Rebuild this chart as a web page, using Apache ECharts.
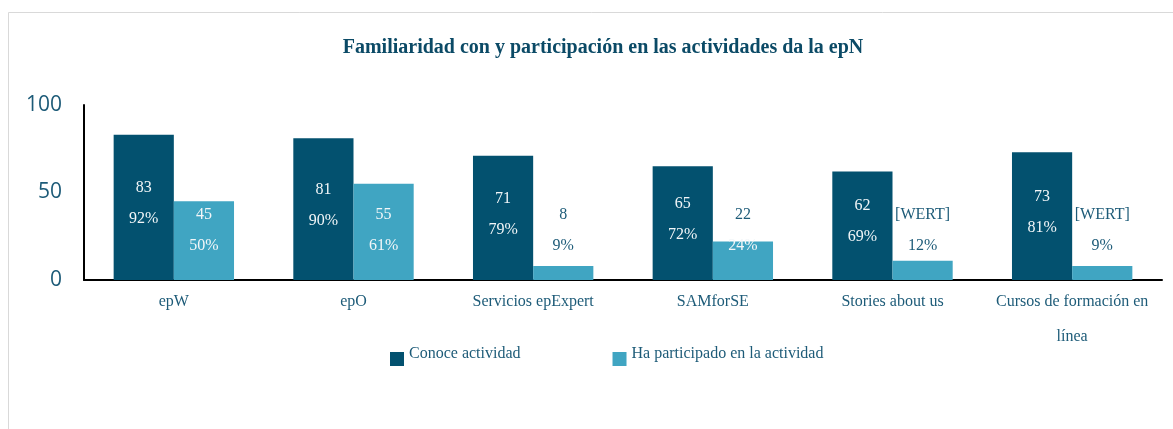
<!DOCTYPE html>
<html>
<head>
<meta charset="utf-8">
<script src="https://cdn.jsdelivr.net/npm/echarts@6/dist/echarts.min.js"></script>
<style>
html,body{margin:0;padding:0;background:#fff;}
#chart{width:1173px;height:429px;}
</style>
</head>
<body>
<div id="chart"></div>
<script>
const categories = ['epW', 'epO', 'Servicios epExpert', 'SAMforSE', 'Stories about us', 'Cursos de formación en\nlínea'];
const conoce = [83, 81, 71, 65, 62, 73];
const conocePct = ['92%', '90%', '79%', '72%', '69%', '81%'];
const participado = [45, 55, 8, 22, 11, 8];
const participadoLabels = ['45', '55', '8', '22', '[WERT]', '[WERT]'];
const participadoPct = ['50%', '61%', '9%', '24%', '12%', '9%'];
const yTicks = [0, 50, 100];

const DARK = '#03516f';
const LIGHT = '#40a5c2';
const TEXT = '#1d5b78';
const SERIF = '"Liberation Serif", "DejaVu Serif", serif';

const chart = echarts.init(document.getElementById('chart'));

// light-series label lines: white when the line sits inside the bar
const lineInside = (v, line) => line === 0 ? v > 37 : v > 19;

chart.setOption({
  backgroundColor: '#ffffff',
  animation: false,
  graphic: [{
    type: 'rect',
    shape: { x: 8.5, y: 12.5, width: 1300, height: 600 },
    style: { fill: 'none', stroke: '#d9d9d9', lineWidth: 1 },
    silent: true, z: -10
  }],
  title: {
    text: 'Familiaridad con y participación en las actividades da la epN',
    left: 598,
    top: 33,
    textAlign: 'center',
    textStyle: { fontFamily: SERIF, fontWeight: 'bold', fontSize: 20, color: '#0b4a66' }
  },
  legend: {
    left: 385,
    top: 341,
    itemWidth: 14,
    itemHeight: 14,
    itemGap: 92,
    icon: 'rect',
    data: ['Conoce actividad', 'Ha participado en la actividad'],
    formatter: name => '{t|' + name + '}',
    textStyle: {
      fontFamily: SERIF, fontSize: 16, color: TEXT,
      rich: { t: { fontFamily: SERIF, fontSize: 16, color: TEXT, padding: [0, 0, 10, 0] } }
    }
  },
  grid: { left: 84, right: 11, top: 105, bottom: 149, containLabel: false },
  xAxis: {
    type: 'category',
    data: categories,
    axisLine: { lineStyle: { color: '#000', width: 2 } },
    axisTick: { show: false },
    axisLabel: {
      interval: 0,
      margin: 4,
      fontFamily: SERIF,
      fontSize: 16,
      color: TEXT,
      lineHeight: 35,
      verticalAlign: 'top'
    }
  },
  yAxis: {
    type: 'value',
    min: 0,
    max: 100,
    interval: 50,
    axisLine: { show: true, lineStyle: { color: '#000', width: 2 } },
    axisTick: { show: false },
    splitLine: { show: false },
    axisLabel: {
      margin: 22,
      fontFamily: '"Open Sans", "Noto Sans", sans-serif',
      fontSize: 21,
      color: TEXT,
      formatter: v => yTicks.includes(v) ? String(v) : ''
    }
  },
  series: [{
    name: 'Conoce actividad',
    type: 'bar',
    data: conoce,
    barWidth: '33.5%',
    barGap: '0%',
    itemStyle: { color: DARK },
    label: {
      show: true,
      position: 'inside',
      offset: [0, -4],
      formatter: p => '{a|' + p.value + '}\n{a|' + conocePct[p.dataIndex] + '}',
      rich: { a: { fontFamily: SERIF, fontSize: 16, color: '#f2f6f8', lineHeight: 31 } }
    }
  }, {
    name: 'Ha participado en la actividad',
    type: 'bar',
    data: participado,
    barWidth: '33.5%',
    itemStyle: { color: LIGHT },
    label: {
      show: true,
      position: 'insideBottom',
      distance: 19,
      formatter: p => {
        const i = p.dataIndex, v = p.value;
        const s1 = lineInside(v, 0) ? 'w' : 'd';
        const s2 = lineInside(v, 1) ? 'w' : 'd';
        return '{' + s1 + '|' + participadoLabels[i] + '}\n{' + s2 + '|' + participadoPct[i] + '}';
      },
      rich: {
        w: { fontFamily: SERIF, fontSize: 16, color: '#f2f6f8', lineHeight: 31 },
        d: { fontFamily: SERIF, fontSize: 16, color: TEXT, lineHeight: 31 }
      }
    }
  }]
});
</script>
</body>
</html>
